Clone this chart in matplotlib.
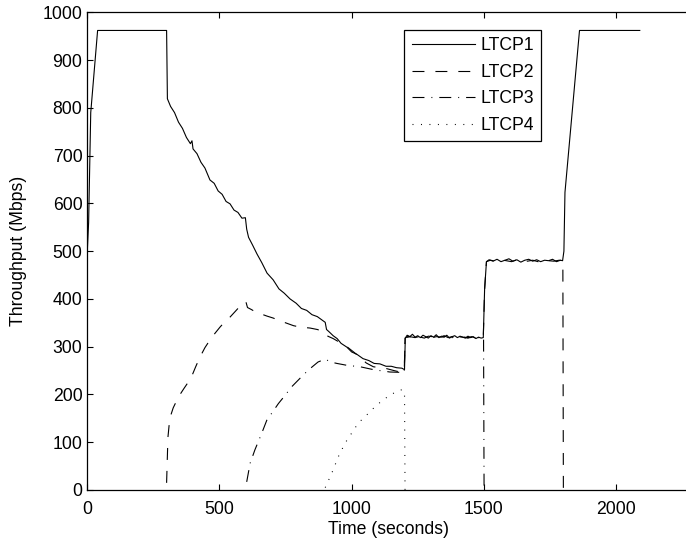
import matplotlib
matplotlib.use('Agg')
import matplotlib.pyplot as plt

plt.rcParams['font.family'] = ['Liberation Sans', 'DejaVu Sans']
plt.rcParams['font.size'] = 12.7
plt.rcParams['lines.scale_dashes'] = False

# LTCP1 (solid)
t1 = [0, 5, 13, 39, 300, 303, 315, 330, 345, 360, 375, 390, 396, 400, 415, 430, 445,
      464, 480, 495, 510, 525, 540, 555, 570, 585, 598, 603, 610, 625, 642, 660, 680,
      703, 725, 745, 767, 790, 810, 830, 850, 870, 890, 900, 905, 915, 930, 945, 960,
      982, 1000, 1020, 1043, 1065, 1085, 1107, 1130, 1150, 1170, 1190, 1200,
      1203, 1210, 1220, 1230, 1240, 1250, 1260, 1270, 1280, 1290, 1300, 1310, 1320,
      1330, 1340, 1350, 1360, 1370, 1380, 1390, 1400, 1410, 1420, 1430, 1440, 1450,
      1460, 1470, 1480, 1490, 1498,
      1503, 1510, 1520, 1535, 1550, 1565, 1580, 1595, 1610, 1625, 1640, 1655, 1670,
      1685, 1700, 1715, 1730, 1745, 1760, 1775, 1790, 1798,
      1803, 1807, 1862, 2090]
v1 = [500, 560, 790, 962, 962, 819, 803, 790, 770, 757, 738, 725, 731, 714, 704, 686, 674,
      649, 642, 626, 619, 604, 599, 586, 581, 569, 570, 546, 529, 513, 494, 476, 454,
      440, 421, 412, 400, 391, 380, 376, 367, 363, 355, 351, 336, 331, 323, 317, 307,
      299, 289, 284, 275, 271, 265, 264, 259, 259, 256, 255, 252,
      318, 324, 321, 326, 320, 323, 319, 324, 321, 318, 323, 320, 325,
      319, 322, 320, 324, 318, 321, 323, 319, 322, 320, 318, 322, 319,
      321, 317, 320, 318, 319,
      420, 478, 482, 479, 483, 478, 481, 484, 479, 482, 477, 481, 483,
      479, 482, 478, 481, 480, 483, 478, 481, 480,
      500, 623, 962, 962]

# LTCP2 (dashed)
t2 = [300, 305, 312, 325, 345, 365, 392, 410, 426, 445, 464, 483, 502, 520, 540, 560,
      578, 590, 600, 606, 620, 642, 660, 680, 703, 730, 755, 780, 805, 825, 843, 870,
      892, 900, 910, 930, 955, 982, 1005, 1032, 1055, 1082, 1108, 1133, 1160, 1183,
      1199, 1202, 1215, 1230, 1245, 1260, 1275, 1290, 1305, 1320, 1335, 1350, 1365,
      1380, 1395, 1410, 1425, 1440, 1455, 1470, 1485, 1498,
      1503, 1510, 1525, 1545, 1565, 1585, 1605, 1625, 1645, 1665, 1685, 1705, 1725,
      1745, 1765, 1785, 1799, 1801]
v2 = [15, 110, 150, 172, 195, 212, 234, 258, 278, 298, 314, 328, 341, 352, 362, 374,
      385, 390, 394, 382, 378, 371, 368, 364, 360, 354, 349, 344, 341, 340, 339, 336,
      332, 330, 322, 317, 309, 300, 290, 278, 266, 258, 256, 254, 250, 247,
      249, 318, 322, 319, 323, 320, 318, 322, 321, 317, 320, 323, 319,
      321, 318, 322, 320, 319, 321, 318, 320, 319,
      420, 478, 481, 479, 482, 480, 478, 482, 480, 479, 481, 478, 482,
      480, 479, 481, 480, 0]

# LTCP3 (dash-dot)
t3 = [603, 616, 634, 660, 679, 698, 723, 748, 773, 805, 836, 873, 900, 920, 944, 982,
      1032, 1082, 1145, 1199, 1202, 1220, 1240, 1260, 1280, 1300, 1320, 1340, 1360,
      1380, 1400, 1420, 1440, 1460, 1480, 1499, 1501]
v3 = [17, 56, 84, 119, 146, 161, 181, 198, 216, 234, 251, 268, 274, 268, 265, 261,
      258, 252, 247, 246, 318, 321, 319, 322, 320, 318, 321, 320, 322,
      319, 321, 320, 318, 321, 319, 320, 0]

# LTCP4 (dotted)
t4 = [900, 906, 930, 949, 975, 1000, 1025, 1057, 1095, 1145, 1183, 1192, 1200, 1202]
v4 = [5, 12, 42, 69, 98, 119, 140, 157, 178, 199, 209, 210, 205, 0]

fig = plt.figure(figsize=(6.86, 5.46), dpi=100)
ax = fig.add_axes([87.3 / 686, 1 - 490 / 546, (690 - 87.3) / 686, (490 - 12.3) / 546])

lw = 0.8
ax.plot(t1, v1, color='black', lw=lw, label='LTCP1')
ax.plot(t2, v2, color='black', lw=lw, linestyle=(0, (8.6, 7.9)), label='LTCP2')
ax.plot(t3, v3, color='black', lw=lw, linestyle=(0, (8.6, 5.0, 0.7, 5.0)), label='LTCP3')
ax.plot(t4, v4, color='black', lw=lw, linestyle=(0, (0.7, 5.4)), label='LTCP4')

ax.set_xlim(0, 2280)
ax.set_ylim(0, 1000)
ax.set_xticks([0, 500, 1000, 1500, 2000])
ax.set_yticks(range(0, 1001, 100))
ax.tick_params(direction='in', top=True, right=False, length=4, width=0.8)
ax.tick_params(axis='x', pad=8)
ax.tick_params(axis='y', pad=3.5)
for s in ax.spines.values():
    s.set_linewidth(0.9)

ax.set_xlabel('Time (seconds)', labelpad=2)
ax.set_ylabel('Throughput (Mbps)', labelpad=11)

leg = ax.legend(loc='upper right', bbox_to_anchor=(541 / 686, 1 - 30 / 546),
                bbox_transform=fig.transFigure, borderaxespad=0, fancybox=False,
                edgecolor='black', framealpha=1, handlelength=3.6, handletextpad=0.3,
                labelspacing=0.55, borderpad=0.4)
leg.get_frame().set_linewidth(0.9)

fig.savefig('out.png', dpi=100)
